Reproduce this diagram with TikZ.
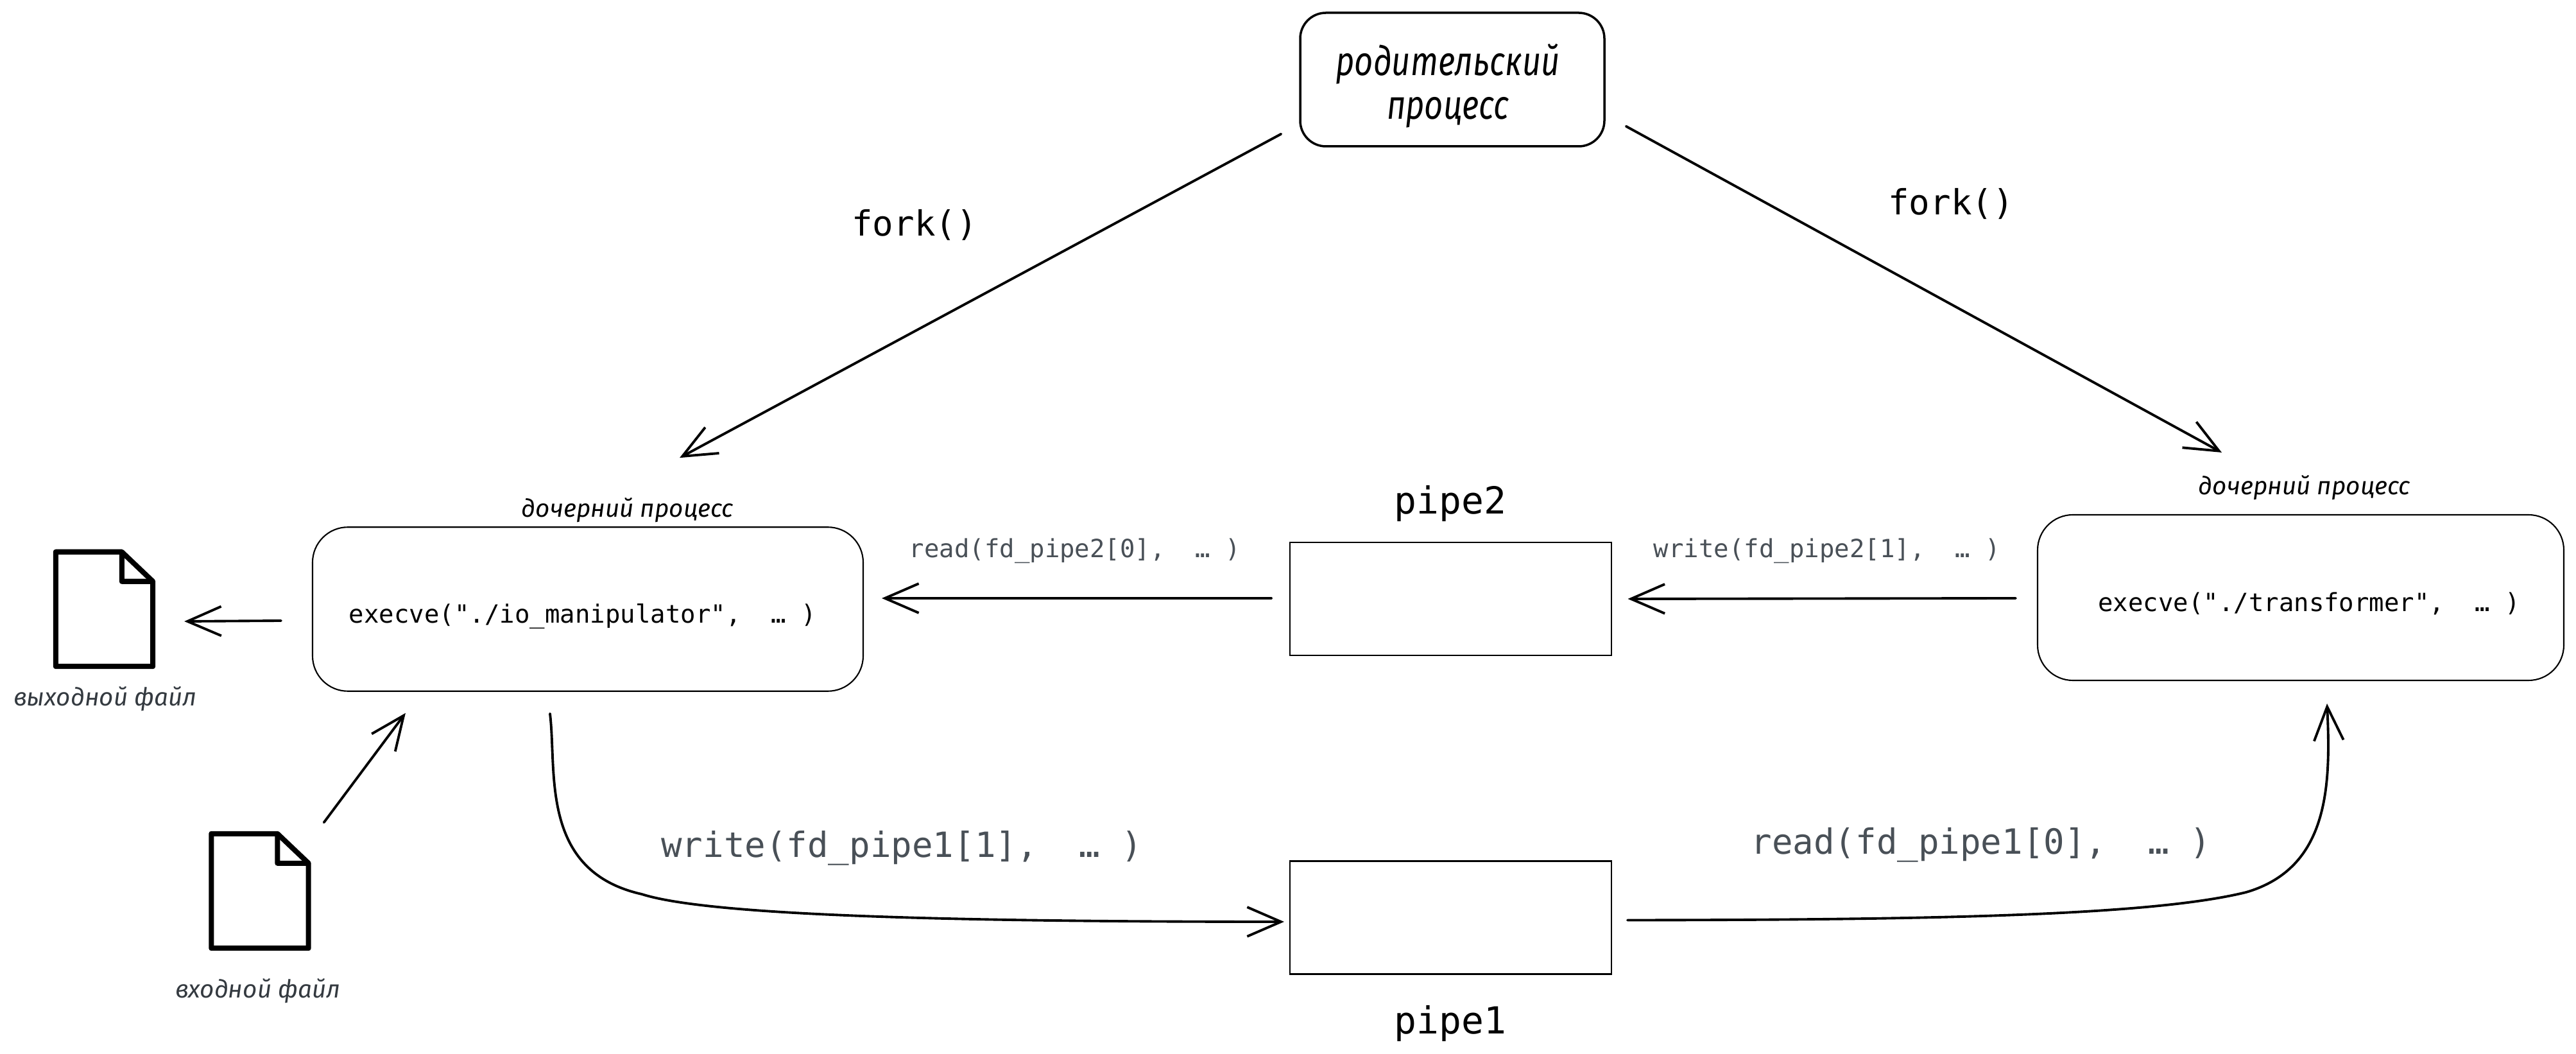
\documentclass[tikz,border=0pt]{standalone}
\usepackage{fontspec}
\setmonofont{DejaVu Sans Mono}
\newfontfamily\handfont{Fira Sans}
\newfontfamily\handnarrow{Fira Sans}[FakeStretch=0.8]
\usetikzlibrary{arrows.meta}

\definecolor{callgray}{HTML}{495057}
\definecolor{notegray}{HTML}{343A40}

\tikzset{
  >={Straight Barb[length=15pt,width=13pt,line width=1.1pt]},
  flow/.style={->,line width=1.1pt,line cap=round,line join=round},
  processbox/.style={draw,rounded corners=0.55cm,line width=0.6pt,inner sep=0pt},
  pipebox/.style={draw,line width=0.6pt,inner sep=0pt,minimum width=5.01cm,minimum height=1.76cm},
  filebox/.style={inner sep=0pt,minimum width=1.5cm,minimum height=1.77cm},
  fileline/.style={line width=2.3pt,line join=round},
  bigcall/.style={font=\ttfamily\fontsize{15.4}{18}\selectfont},
  pipelabel/.style={font=\ttfamily\fontsize{16.5}{20}\selectfont},
  smallcall/.style={font=\ttfamily\fontsize{11.1}{13}\selectfont},
  handnote/.style={font=\handfont\itshape\fontsize{11}{13}\selectfont},
}

\newcommand{\fileicon}[1]{
  \draw[fileline] (#1.north west) -- ++(1.03,0) -- ([yshift=-0.46cm]#1.north east)
    -- (#1.south east) -- (#1.south west) -- cycle;
  \draw[fileline] ([xshift=1.03cm]#1.north west) -- ++(0,-0.46) -- ([yshift=-0.46cm]#1.north east);
}

\begin{document}
\begin{tikzpicture}
  \useasboundingbox (0,0) rectangle (40.14,16.42);

  % processes
  \node[processbox,rounded corners=0.4cm,line width=1pt,minimum width=4.74cm,minimum height=2.08cm] (parent) at (22.63,15.18) {};
  \node[align=center,font=\handnarrow\itshape\fontsize{18}{19.5}\selectfont] (parenttext) at (22.56,15.08) {родительский\\процесс};
  \node[processbox,minimum width=8.58cm,minimum height=2.555cm] (childleft) at (9.16,6.93) {};
  \node[processbox,minimum width=8.2cm,minimum height=2.58cm] (childright) at (35.85,7.11) {};
  \node[smallcall] (execleft) at (9.08,6.82) {execve("./io\_manipulator",~~…~)};
  \node[smallcall] (execright) at (35.98,7.02) {execve("./transformer",~~…~)};
  \node[handnote] (noteleft) at (9.78,8.47) {дочерний процесс};
  \node[handnote] (noteright) at (35.91,8.82) {дочерний процесс};

  % pipes
  \node[pipebox] (pipetwo) at (22.605,7.09) {};
  \node[pipebox] (pipeone) at (22.605,2.125) {};
  \node[pipelabel] (pipetwolabel) at (22.60,8.57) {pipe2};
  \node[pipelabel] (pipeonelabel) at (22.60,0.47) {pipe1};

  % files
  \node[filebox] (outfile) at (1.625,6.93) {};
  \node[filebox] (infile) at (4.05,2.54) {};
  \fileicon{outfile}
  \fileicon{infile}
  \node[handnote,text=notegray] (outnote) at (1.64,5.53) {выходной файл};
  \node[handnote,text=notegray] (innote) at (4.02,0.98) {входной файл};

  % calls
  \node[bigcall] (forkleft) at (14.25,12.91) {fork()};
  \node[bigcall] (forkright) at (30.40,13.24) {fork()};
  \node[smallcall,text=callgray] (readtwo) at (16.75,7.84) {read(fd\_pipe2[0],~~…~)};
  \node[smallcall,text=callgray] (writetwo) at (28.47,7.84) {write(fd\_pipe2[1],~~…~)};
  \node[bigcall,text=callgray] (writeone) at (14.05,3.21) {write(fd\_pipe1[1],~~…~)};
  \node[bigcall,text=callgray] (readone) at (30.87,3.26) {read(fd\_pipe1[0],~~…~)};

  % arrows
  \draw[flow] ([shift={(-0.28,0.21)}]parent.south west) -- ([shift={(1.43,1.07)}]childleft.north);
  \draw[flow] ([shift={(0.32,0.33)}]parent.south east) -- ([shift={(-1.23,0.96)}]childright.north);
  \draw[flow] ([shift={(-0.48,-0.18)}]childleft.west) -- ([shift={(0.49,-0.19)}]outfile.east);
  \draw[flow] ([shift={(0.24,0.175)}]infile.north east) -- ([shift={(1.46,-0.33)}]childleft.south west);
  \draw[flow] ([shift={(-0.28,0.01)}]pipetwo.west) -- ([shift={(0.28,0.17)}]childleft.east);
  \draw[flow] ([shift={(-0.33,-0.01)}]childright.west) -- ([shift={(0.245,0)}]pipetwo.east);

  \coordinate (bendleft) at (10.00,2.49);
  \coordinate (bendright) at (35.00,2.52);
  \draw[flow] ([shift={(-0.59,-0.34)}]childleft.south) .. controls (8.68,4.40) and (8.40,2.85) .. (bendleft)
    .. controls (11.0,2.17) and (14.5,2.06) .. ([shift={(-0.08,-0.065)}]pipeone.west);
  \draw[flow] ([shift={(0.24,-0.04)}]pipeone.east) .. controls (30,2.09) and (33.5,2.15) .. (bendright)
    .. controls (36.3,2.9) and (36.32,4.2) .. ([shift={(0.41,-0.35)}]childright.south);
\end{tikzpicture}
\end{document}
